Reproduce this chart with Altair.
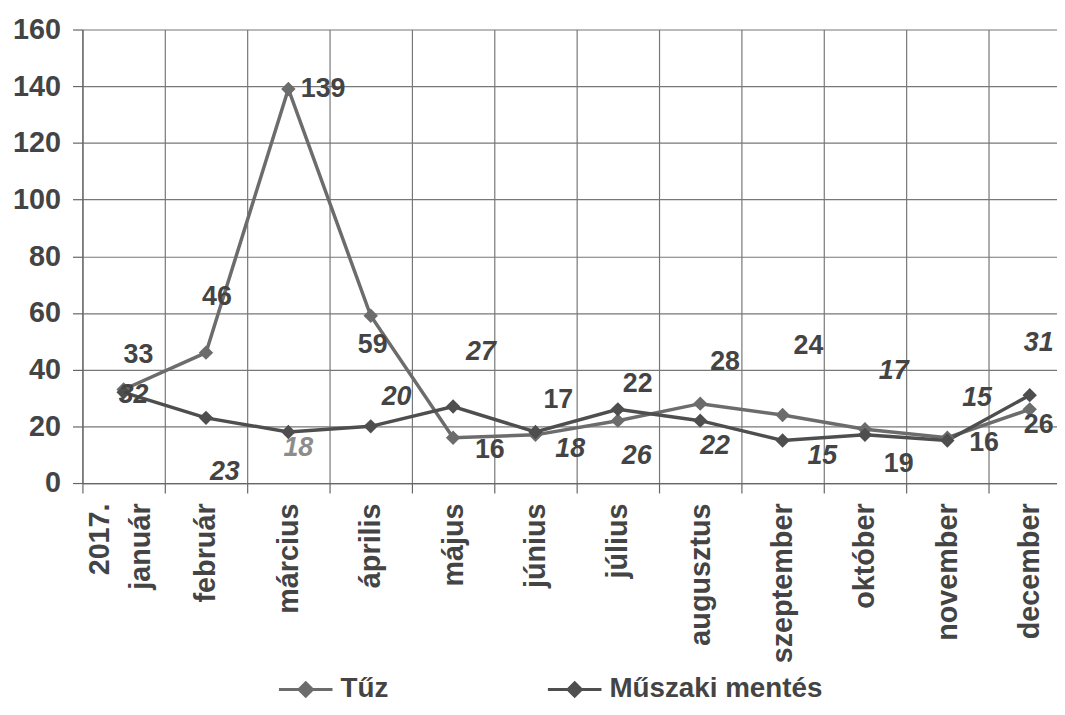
import altair as alt
import pandas as pd

months = ['január', 'február', 'március', 'április', 'május', 'június',
          'július', 'augusztus', 'szeptember', 'október', 'november', 'december']
series_names = ['Tűz', 'Műszaki mentés']
tuz = [33, 46, 139, 59, 16, 17, 22, 28, 24, 19, 16, 26]
muszaki = [32, 23, 18, 20, 27, 18, 26, 22, 15, 17, 15, 31]

# label placement (pixel offsets from each point), as in the original
tuz_dx = [15, 11, 35, 2, 37, 23, 20, 25, 26, 34, 37, 9]
tuz_dy = [-35, -56, 0, 29, 12, -35, -37, -42, -69, 35, 5, 16]
mus_dx = [10, 19, 10, 26, 28, 35, 19, 15, 40, 29, 30, 9]
mus_dy = [3, 55, 16, -30, -55, 17, 47, 26, 16, -64, -43, -53]

rows = []
for s, vals in zip(series_names, [tuz, muszaki]):
    for m, v in zip(months, vals):
        rows.append({'month': m, 'series': s, 'value': v})
df = pd.DataFrame(rows)

FONT = 'Liberation Sans'
TXT = '#444444'
colors = ['#6c6c6c', '#4e4e4e']

xscale = alt.Scale(type='band', paddingInner=0, paddingOuter=0, range=[0, 996])

def xlab_axis(expr, offset, main=False):
    return alt.Axis(orient='bottom', labelAngle=-90, labelExpr=expr,
                    labelOffset=offset, labelPadding=10, tickSize=10,
                    ticks=True, tickOpacity=1 if main else 0,
                    tickBand='extent', grid=main, domain=main,
                    labelFont=FONT, labelFontSize=29, labelFontWeight='bold',
                    labelColor=TXT, labelLimit=300)

x_main = alt.X('month:N', sort=months, title=None, scale=xscale,
               axis=xlab_axis("datum.value == 'január' ? '' : datum.label", 0, True))
x_year = alt.X('month:N', sort=months, title=None,
               axis=xlab_axis("datum.value == 'január' ? '2017.' : ''", -24))
x_jan = alt.X('month:N', sort=months, title=None,
              axis=xlab_axis("datum.value == 'január' ? 'január' : ''", 17))
x_none = alt.X('month:N', sort=months, axis=None)

y_enc = alt.Y('value:Q', title=None,
              scale=alt.Scale(domain=[0, 160], nice=False, zero=True),
              axis=alt.Axis(values=[0, 20, 40, 60, 80, 100, 120, 140, 160],
                            tickSize=10, labelPadding=12, grid=True))
y_plain = alt.Y('value:Q', title=None)

color_enc = alt.Color('series:N', sort=series_names, title=None,
                      scale=alt.Scale(domain=series_names, range=colors),
                      legend=alt.Legend(orient='none', legendX=211, legendY=651,
                                        direction='horizontal',
                                        symbolType='M-3,0L3,0M0,-0.75L0.75,0L0,0.75L-0.75,0Z',
                                        symbolSize=324, symbolStrokeWidth=3,
                                        symbolFillColor='#5e5e5e',
                                        symbolStrokeColor='#5e5e5e',
                                        labelOffset=21, columnPadding=154,
                                        labelLimit=400,
                                        labelFont=FONT, labelFontSize=28,
                                        labelFontWeight='bold', labelColor=TXT))

base = alt.Chart(df)
lines = base.mark_line(strokeWidth=3.5).encode(x=x_main, y=y_enc, color=color_enc,
                                               detail='series:N')
points = base.mark_point(shape='diamond', filled=True, size=210, opacity=1).encode(
    x=x_year, y=y_plain, color=alt.Color('series:N', legend=None))

layers = [lines, points]
first = True
for s, vals, dxs, dys, italic in [
        ('Tűz', tuz, tuz_dx, tuz_dy, False),
        ('Műszaki mentés', muszaki, mus_dx, mus_dy, True)]:
    for m, dx, dy in zip(months, dxs, dys):
        col = '#8c8c8c' if (italic and m == 'március') else TXT
        t = base.transform_filter(
            (alt.datum.series == s) & (alt.datum.month == m)
        ).mark_text(dx=dx, dy=dy, font=FONT, fontSize=27, fontWeight='bold',
                    fontStyle='italic' if italic else 'normal', color=col,
                    align='center', baseline='middle').encode(
            x=x_jan if first else x_none, y=y_plain, text='value:Q')
        first = False
        layers.append(t)

chart = alt.layer(*layers).resolve_axis(x='independent').properties(
    width=982, height=457,
    autosize=alt.AutoSizeParams(type='none'),
    padding={'left': 75, 'top': 19, 'right': 0, 'bottom': 223},
    background='white'
).configure_view(stroke=None).configure_axis(
    labelFont=FONT, labelFontSize=29, labelFontWeight='bold', labelColor=TXT,
    gridColor='#777777', gridWidth=1.2, gridOpacity=1,
    domainColor='#666666', domainWidth=1.2, tickColor='#666666', tickWidth=1.2
)

chart.save('out.html', embed_options={'renderer': 'svg', 'actions': False})
